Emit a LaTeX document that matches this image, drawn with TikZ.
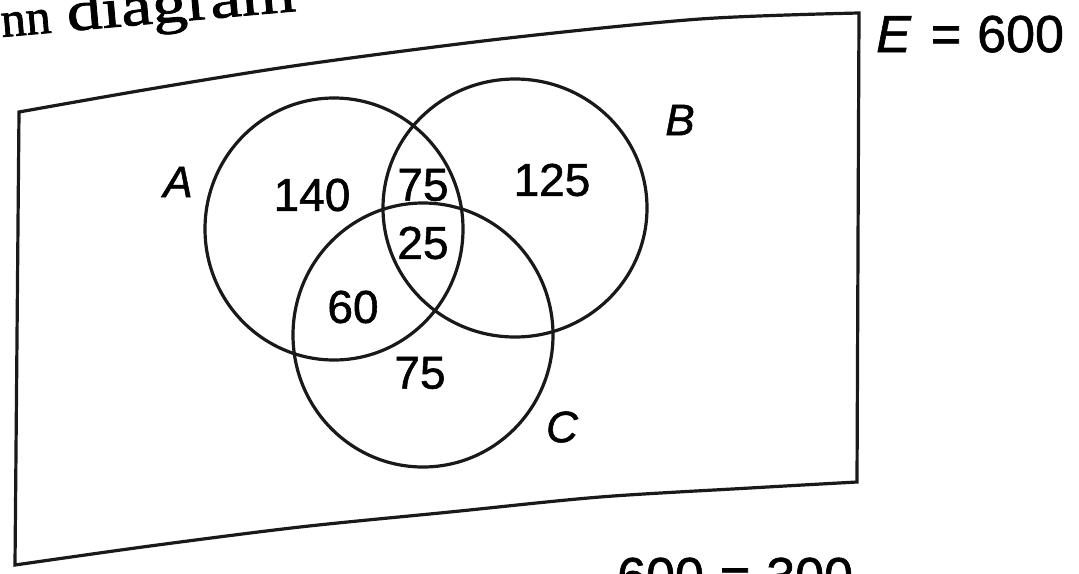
\documentclass[tikz,border=0pt]{standalone}
\usepackage{fontspec}
\setmainfont{Liberation Sans}
\newfontfamily\numfont[FakeBold=1.2]{Liberation Sans}
\newfontfamily\labfont[FakeBold=1.2]{Liberation Sans Italic}
\newfontfamily\serifx[FakeBold=1.5]{Liberation Serif}
\newfontfamily\serifwide[FakeStretch=1.25,FakeBold=1.5]{Liberation Serif}
\begin{document}
\begin{tikzpicture}[x=1pt,y=-1pt,
  ink/.style={draw=black!90,line width=3.2pt},
  num/.style={inner sep=0pt,font=\fontsize{46}{46}\numfont},
  lab/.style={inner sep=0pt,font=\fontsize{44}{44}\labfont},
  big/.style={inner sep=0pt,font=\fontsize{52}{52}\numfont}]
\useasboundingbox (0,0) rectangle (1079,573);
\clip (0,0) rectangle (1079,573);
\fill[white] (0,0) rectangle (1079,573);
% frame (photographed page, slightly curved)
\draw[ink,line join=miter]
  plot[smooth,tension=0.5] coordinates {(19,112) (150,89) (300,65) (500,39) (700,19) (859,13)}
  -- plot[smooth,tension=0.5] coordinates {(857,482) (750,488) (600,497) (450,512) (300,527) (150,546) (15,565)}
  -- cycle;
% sets
\draw[ink] (334,229) ellipse [x radius=129, y radius=131];
\draw[ink] (515,208) ellipse [x radius=132, y radius=129];
\draw[ink] (423,335) ellipse [x radius=130, y radius=132];
% region numbers
\node[num] (n140) at (312,195) {140};
\node[num] (n75a) at (423,185) {75};
\node[num] (n25) at (423,243) {25};
\node[num] (n125) at (552,180) {125};
\node[num] (n60) at (353,307) {60};
\node[num] (n75b) at (420,373) {75};
% set labels
\node[lab] (lA) at (178,182) {A};
\node[lab] (lB) at (680,120) {B};
\node[lab] (lC) at (562,427) {C};
% universe
\node[big,anchor=base west] (univ) at (876,52) {{\labfont E}\hspace{20pt}=\hspace{16pt}600};
% cut-off texts
\node[inner sep=0pt,anchor=base west,rotate=5,font=\fontsize{50}{50}\serifx] (t1) at (2,37) {nn};
\node[inner sep=0pt,anchor=base west,rotate=5,font=\fontsize{56}{56}\serifwide] (t2) at (68,31) {diagram};
\node[big,anchor=base west] (t3) at (617,594) {600\hspace{16pt}=\hspace{16pt}300};
\end{tikzpicture}
\end{document}
